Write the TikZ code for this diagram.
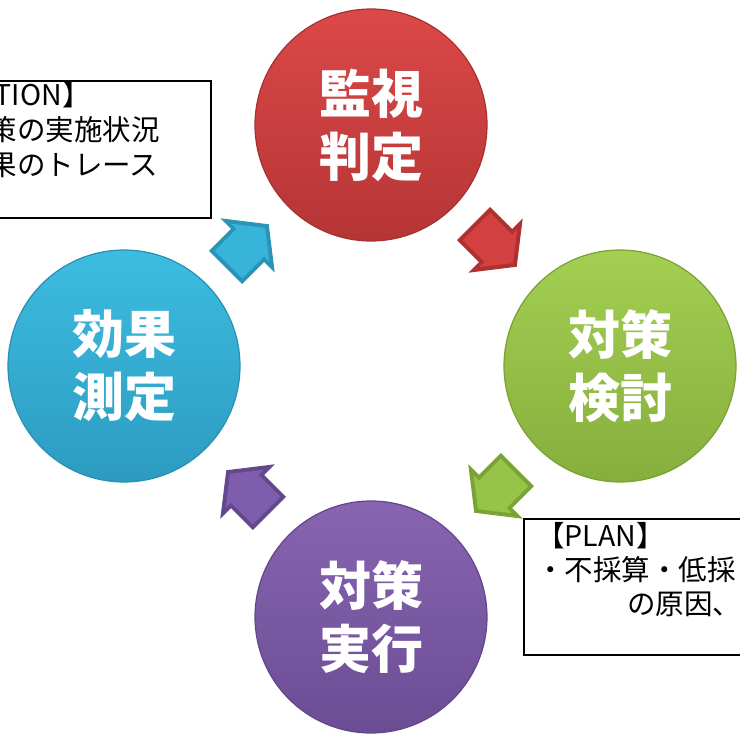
\documentclass[tikz,border=0pt]{standalone}
\usepackage{fontspec}
\newfontfamily\jp{Noto Sans CJK JP}
\usetikzlibrary{calc}
\definecolor{redT}{HTML}{DC4848}
\definecolor{redB}{HTML}{B53535}
\definecolor{redE}{HTML}{A83030}
\definecolor{redA}{HTML}{D24040}
\definecolor{redR}{HTML}{B03030}
\definecolor{grnT}{HTML}{A3CF52}
\definecolor{grnB}{HTML}{86AE3D}
\definecolor{grnE}{HTML}{7BA036}
\definecolor{grnA}{HTML}{95C448}
\definecolor{grnR}{HTML}{79A334}
\definecolor{purT}{HTML}{8864B1}
\definecolor{purB}{HTML}{6B4D94}
\definecolor{purE}{HTML}{62468A}
\definecolor{purA}{HTML}{7E5DAD}
\definecolor{purR}{HTML}{64488E}
\definecolor{bluT}{HTML}{3DBCE1}
\definecolor{bluB}{HTML}{2D9BC0}
\definecolor{bluE}{HTML}{2890B2}
\definecolor{bluA}{HTML}{38B4DA}
\definecolor{bluR}{HTML}{2A94B6}
\tikzset{
  circ/.style={circle, minimum size=232pt, inner sep=0pt, text=white,
    font=\jp\bfseries\fontsize{52}{63}\selectfont, align=center, line width=1.2pt},
  box/.style={draw=black, line width=1.8pt, fill=white, rectangle, inner sep=0pt},
  txt/.style={font=\jp\fontsize{28.5}{35}\selectfont, inner sep=0pt,
    text height=0.88em, text depth=0.12em, anchor=west},
  pics/carrow/.style n args={2}{code={
    \fill[#1] (-31,-23.5) -- (0,-23.5) -- (0,-38.5) -- (30,0) -- (0,38.5) -- (0,23.5) -- (-31,23.5) -- cycle;
    \fill[#2] (-27,-19.5) -- (4,-19.5) -- (4,-26.8) -- (24.9,0) -- (4,26.8) -- (4,19.5) -- (-27,19.5) -- cycle;
  }}
}
\begin{document}
\begin{tikzpicture}[x=1pt,y=-1pt]
\useasboundingbox (0,0) rectangle (740,736);
\clip (0,0) rectangle (740,736);
% text boxes
\node[box, minimum width=310pt, minimum height=137pt, anchor=north east] (act) at (212,80) {};
\node[box, minimum width=300pt, minimum height=136pt, anchor=north west] (plan) at (523,518) {};
\node[txt] (a1) at (-68.5,102) {【ACTION】};
\node[txt] (a2) at (-68.5,137) {・対策の実施状況};
\node[txt] (a3) at (-68.5,172) {・効果のトレース};
\node[txt] (p1) at (536,543) {【PLAN】};
\node[txt] (p2) at (536,577) {・不採算・低採};
\node[txt] (p3) at (627,611) {の原因、};
% circles
\node[circ, top color=redT, bottom color=redB, draw=redE] (mon) at (371,125) {監視\\判定};
\node[circ, top color=grnT, bottom color=grnB, draw=grnE] (kento) at (620,366) {対策\\検討};
\node[circ, top color=purT, bottom color=purB, draw=purE] (jikko) at (371,617) {対策\\実行};
\node[circ, top color=bluT, bottom color=bluB, draw=bluE] (koka) at (124,366) {効果\\測定};
% arrows
\pic[rotate=-45] at ($(mon)!0.5!(kento)$) {carrow={redR}{redA}};
\pic[rotate=-135] at ($(kento)!0.5!(jikko)$) {carrow={grnR}{grnA}};
\pic[rotate=135] at ($(jikko)!0.5!(koka)$) {carrow={purR}{purA}};
\pic[rotate=45] at ($(koka)!0.5!(mon)$) {carrow={bluR}{bluA}};
\end{tikzpicture}
\end{document}
